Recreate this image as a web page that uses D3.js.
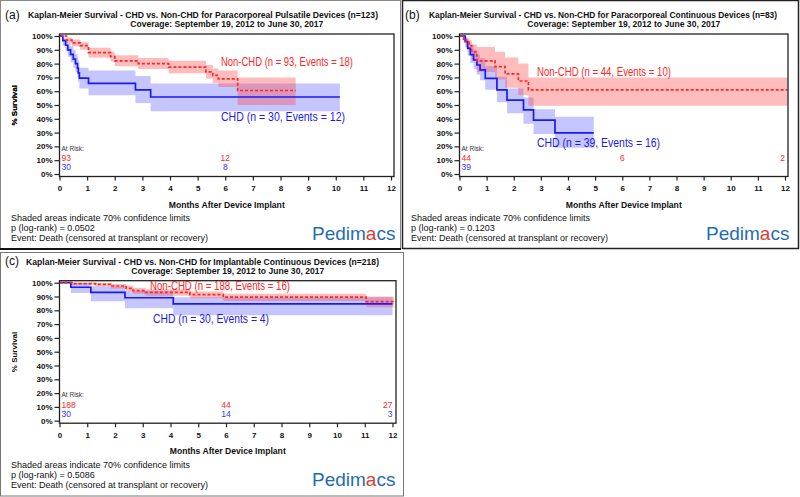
<!DOCTYPE html>
<html>
<head>
<meta charset="utf-8">
<script src="https://cdn.jsdelivr.net/npm/d3@7"></script>
<style>
  body { margin: 0; background: #fff; }
  svg { display: block; }
  text { font-family: Arial, "Liberation Sans", sans-serif; }
</style>
</head>
<body>
<div id="chart"></div>
<script>
// tick values shared by all three panels
var monthTicks = [0, 1, 2, 3, 4, 5, 6, 7, 8, 9, 10, 11, 12];
var pctTicks = [0, 10, 20, 30, 40, 50, 60, 70, 80, 90, 100];

// (a) Paracorporeal Pulsatile - Non-CHD
var aNonTime = [0, 0.25, 0.45, 0.75, 1.05, 1.85, 2.0, 2.85, 3.95, 5.3, 5.55, 5.75, 6.45, 8.55];
var aNonSurv = [100, 97, 95, 93, 88, 85, 82, 80, 77.5, 74, 71.5, 69, 60.5, 60.5];
var aNonHi   = [100, 99, 97.5, 95.5, 91.5, 88.5, 86, 84, 82, 79, 76.5, 75, 70, 70];
var aNonLo   = [100, 95, 92.5, 90, 84.5, 81.5, 78, 76, 73, 69, 66, 63, 50, 50];
// (a) CHD
var aChdTime = [0, 0.12, 0.22, 0.3, 0.4, 0.5, 0.58, 0.65, 0.68, 0.72, 1.05, 2.75, 3.3, 10.15];
var aChdSurv = [100, 96.7, 93.3, 90, 86.7, 83.3, 80, 76.7, 73.3, 69.5, 65.7, 61, 55.8, 55.8];
var aChdHi   = [100, 99, 97, 95, 92.5, 90, 87, 85, 82, 77, 75, 71, 65.5, 65.5];
var aChdLo   = [100, 93, 89, 85, 81, 77, 73.5, 70, 66.5, 62, 57, 51.5, 45.5, 45.5];
var aRiskMonth = [0, 6];
var aRiskNon = [93, 12];
var aRiskChd = [30, 8];

// (b) Paracorporeal Continuous - Non-CHD
var bNonTime = [0, 0.15, 0.25, 0.35, 0.45, 0.64, 1.31, 1.68, 2.17, 2.54, 12.1];
var bNonSurv = [100, 97.7, 95.4, 93.1, 88.5, 82, 77.8, 72.5, 67.4, 61, 61];
var bNonHi   = [100, 99.5, 98.5, 97, 94, 92, 88.5, 84.5, 80, 70, 70];
var bNonLo   = [100, 95, 91.5, 88.5, 82.5, 74, 68.5, 62.5, 57, 49.5, 49.5];
// (b) CHD
var bChdTime = [0, 0.21, 0.3, 0.4, 0.52, 0.64, 0.76, 0.95, 1.38, 1.75, 2.36, 2.73, 3.52, 4.95];
var bChdSurv = [100, 96, 91, 86.5, 82.6, 79, 75.4, 69.3, 61, 53.6, 46.4, 39, 29.8, 29.8];
var bChdHi   = [100, 99, 96, 93, 90, 87, 84, 78, 70.5, 62, 55.5, 47, 41.5, 41.5];
var bChdLo   = [100, 92, 86, 80.5, 76, 72, 68, 61, 52, 44, 36.5, 29, 19, 19];
var bRiskMonth = [0, 6, 12];
var bRiskNon = [44, 6, 2];
var bRiskChd = [39, null, null];

// (c) Implantable Continuous - Non-CHD
var cNonTime = [0, 0.45, 1.3, 1.85, 2.4, 2.65, 3.1, 4.7, 5.9, 11.05, 12.05];
var cNonSurv = [100, 99.4, 98.8, 97.6, 95.9, 94.3, 93, 91.3, 89.5, 86.3, 86.3];
var cNonHi   = [100, 100, 99.8, 99, 97.7, 96.4, 95.2, 93.6, 92, 90, 90];
var cNonLo   = [100, 98.5, 97.5, 95.8, 93.8, 92, 90.5, 88.7, 86.8, 82.3, 82.3];
// (c) CHD
var cChdTime = [0, 0.41, 1.13, 2.36, 4.1, 12.0];
var cChdSurv = [100, 96.7, 93, 89.1, 84.6, 84.6];
var cChdHi   = [100, 99.8, 97.5, 94, 89.5, 89.5];
var cChdLo   = [100, 92.5, 86.5, 81.5, 76.5, 76.5];
var cRiskMonth = [0, 6, 12];
var cRiskNon = [188, 44, 27];
var cRiskChd = [30, 14, 3];

var red = "#ff2626";
var blue = "#1a1af5";

var svg = d3.select("#chart")
  .append("svg")
  .attr("width", 800)
  .attr("height", 497);

svg.append("rect").attr("width", 800).attr("height", 497).attr("fill", "#fff");

// panel outlines
svg.append("rect").attr("x", 0.5).attr("y", 0.5).attr("width", 400).attr("height", 248)
  .attr("fill", "none").attr("stroke", "#888");
svg.append("line").attr("x1", 0).attr("x2", 401).attr("y1", 249).attr("y2", 249)
  .attr("stroke", "#111").attr("stroke-width", 2);
svg.append("rect").attr("x", 402.5).attr("y", 0.5).attr("width", 396).attr("height", 248)
  .attr("fill", "none").attr("stroke", "#222").attr("stroke-width", 1.5);
svg.append("rect").attr("x", 0.5).attr("y", 252.5).attr("width", 403).attr("height", 243.5)
  .attr("fill", "none").attr("stroke", "#777");

var panels = [
  {
    tag: "(a)", tagX: 5, titleX: 28, titleW: 350,
    title: "Kaplan-Meier Survival - CHD vs. Non-CHD for Paracorporeal Pulsatile Devices (n=123)",
    x0: 59.5, x12: 391, right: 394, y0: 174, y100: 36,
    pval: "p (log-rank) = 0.0502", noteX: 11, logoX: 312,
    non: {time: aNonTime, surv: aNonSurv, hi: aNonHi, lo: aNonLo, label: "Non-CHD (n = 93, Events = 18)", lx: 221, ly: 66, lw: 132},
    chd: {time: aChdTime, surv: aChdSurv, hi: aChdHi, lo: aChdLo, label: "CHD (n = 30, Events = 12)", lx: 221, ly: 121, lw: 124},
    riskMonth: aRiskMonth, riskNon: aRiskNon, riskChd: aRiskChd
  },
  {
    tag: "(b)", tagX: 405, titleX: 429, titleW: 348,
    title: "Kaplan-Meier Survival - CHD vs. Non-CHD for Paracorporeal Continuous Devices (n=83)",
    x0: 459.5, x12: 785, right: 788, y0: 174, y100: 36,
    pval: "p (log-rank) = 0.1203", noteX: 411, logoX: 706,
    non: {time: bNonTime, surv: bNonSurv, hi: bNonHi, lo: bNonLo, label: "Non-CHD (n = 44, Events = 10)", lx: 537, ly: 76, lw: 134},
    chd: {time: bChdTime, surv: bChdSurv, hi: bChdHi, lo: bChdLo, label: "CHD (n = 39, Events = 16)", lx: 537, ly: 147, lw: 123},
    riskMonth: bRiskMonth, riskNon: bRiskNon, riskChd: bRiskChd
  },
  {
    tag: "(c)", tagX: 5, titleX: 26, titleW: 353,
    title: "Kaplan-Meier Survival - CHD vs. Non-CHD for Implantable Continuous Devices (n=218)",
    x0: 59.5, x12: 392.5, right: 396, y0: 420.7, y100: 282.7,
    pval: "p (log-rank) = 0.5086", noteX: 11, logoX: 312,
    non: {time: cNonTime, surv: cNonSurv, hi: cNonHi, lo: cNonLo, label: "Non-CHD (n = 188, Events = 16)", lx: 150, ly: 290, lw: 140},
    chd: {time: cChdTime, surv: cChdSurv, hi: cChdHi, lo: cChdLo, label: "CHD (n = 30, Events = 4)", lx: 153, ly: 323, lw: 116},
    riskMonth: cRiskMonth, riskNon: cRiskNon, riskChd: cRiskChd
  }
];

function drawPanel(p) {
  var x = d3.scaleLinear().domain([0, 12]).range([p.x0, p.x12]);
  var y = d3.scaleLinear().domain([0, 100]).range([p.y0, p.y100]);
  var top = p.y100 - 2;
  var bottom = p.y0 + 2.5;
  var mid = (p.x0 + p.right) / 2;
  var g = svg.append("g");

  // titles
  g.append("text").attr("x", p.tagX).attr("y", p.y100 - 17.5)
    .attr("font-size", "12px").attr("fill", "#111").text(p.tag);
  g.append("text").attr("x", p.titleX).attr("y", p.y100 - 18)
    .attr("font-size", "8.5px").attr("font-weight", "bold").attr("fill", "#111")
    .attr("textLength", p.titleW).attr("lengthAdjust", "spacingAndGlyphs")
    .text(p.title);
  g.append("text").attr("x", mid).attr("y", p.y100 - 9)
    .attr("text-anchor", "middle")
    .attr("font-size", "8.5px").attr("font-weight", "bold").attr("fill", "#111")
    .attr("textLength", 193).attr("lengthAdjust", "spacingAndGlyphs")
    .text("Coverage: September 19, 2012 to June 30, 2017");

  // confidence bands and step curves
  var area = d3.area().curve(d3.curveStepAfter)
    .x(d => x(d.t)).y0(d => y(d.lo)).y1(d => y(d.hi));
  var line = d3.line().curve(d3.curveStepAfter)
    .x(d => x(d.t)).y(d => y(d.s));

  function pts(s) {
    return s.time.map((t, i) => ({t: t, s: s.surv[i], lo: s.lo[i], hi: s.hi[i]}));
  }

  g.append("path").datum(pts(p.chd)).attr("d", area)
    .attr("fill", "rgb(80,80,255)").attr("fill-opacity", 0.33);
  g.append("path").datum(pts(p.non)).attr("d", area)
    .attr("fill", "rgb(255,70,70)").attr("fill-opacity", 0.36);

  g.append("path").datum(pts(p.chd)).attr("d", line)
    .attr("fill", "none").attr("stroke", blue).attr("stroke-width", 1.7);
  g.append("path").datum(pts(p.non)).attr("d", line)
    .attr("fill", "none").attr("stroke", red).attr("stroke-width", 1.7)
    .attr("stroke-dasharray", "3,2");

  // frame
  g.append("rect").attr("x", p.x0).attr("y", top)
    .attr("width", p.right - p.x0).attr("height", bottom - top)
    .attr("fill", "none").attr("stroke", "#222").attr("stroke-width", 1.3);

  // axes
  var yAxis = g.append("g")
    .attr("transform", `translate(${p.x0}, 0)`)
    .call(d3.axisLeft(y).tickValues(pctTicks).tickFormat(d => d + "%").tickSize(5).tickPadding(2));
  yAxis.select(".domain").remove();
  yAxis.selectAll("text").attr("font-size", "8px").attr("font-weight", "bold").attr("fill", "#111");
  yAxis.selectAll("line").attr("stroke", "#222").attr("stroke-width", 1.2);

  var xAxis = g.append("g")
    .attr("transform", `translate(0, ${bottom})`)
    .call(d3.axisBottom(x).tickValues(monthTicks).tickSize(4).tickPadding(5));
  xAxis.select(".domain").remove();
  xAxis.selectAll("text").attr("font-size", "8px").attr("font-weight", "bold").attr("fill", "#111");
  xAxis.selectAll("line").attr("stroke", "#222").attr("stroke-width", 1.2);

  // axis titles
  g.append("text").attr("transform", `translate(17, ${(top + bottom) / 2}) rotate(-90)`)
    .attr("text-anchor", "middle").attr("font-size", "8px").attr("font-weight", "bold")
    .attr("fill", "#111").text("% Survival");
  g.append("text").attr("x", mid).attr("y", bottom + 31)
    .attr("text-anchor", "middle").attr("font-size", "8.5px").attr("font-weight", "bold")
    .attr("fill", "#111").attr("textLength", 116).attr("lengthAdjust", "spacingAndGlyphs")
    .text("Months After Device Implant");

  // series labels
  [["non", red], ["chd", blue]].forEach(function(k) {
    var s = p[k[0]];
    g.append("text").attr("x", s.lx).attr("y", s.ly)
      .attr("font-family", "Lato, 'Open Sans', sans-serif")
      .attr("font-size", "12.5px").attr("fill", k[1])
      .attr("textLength", s.lw).attr("lengthAdjust", "spacingAndGlyphs")
      .text(s.label);
  });

  // number at risk
  g.append("text").attr("x", p.x0 + 2).attr("y", p.y0 - 23.5)
    .attr("font-size", "6.5px").attr("fill", "#333").text("At Risk:");
  function anchor(m) { return m === 0 ? "start" : (m === 12 ? "end" : "middle"); }
  function riskX(m) { return m === 0 ? x(m) + 2 : x(m); }
  p.riskMonth.forEach(function(m, i) {
    if (p.riskNon[i] != null) {
      g.append("text").attr("x", riskX(m)).attr("y", p.y0 - 13)
        .attr("text-anchor", anchor(m)).attr("font-size", "8.5px").attr("fill", red)
        .text(p.riskNon[i]);
    }
    if (p.riskChd[i] != null) {
      g.append("text").attr("x", riskX(m)).attr("y", p.y0 - 4)
        .attr("text-anchor", anchor(m)).attr("font-size", "8.5px").attr("fill", "#3333ff")
        .text(p.riskChd[i]);
    }
  });

  // footnotes
  var notes = ["Shaded areas indicate 70% confidence limits", p.pval,
    "Event: Death (censored at transplant or recovery)"];
  notes.forEach(function(n, i) {
    g.append("text").attr("x", p.noteX).attr("y", bottom + 44.5 + i * 10)
      .attr("font-size", "9px").attr("fill", "#111").text(n);
  });

  // logo
  var logo = g.append("text").attr("x", p.logoX).attr("y", bottom + 63)
    .attr("font-size", "19px").attr("fill", "#1f6db3");
  logo.append("tspan").text("Pedim");
  logo.append("tspan").attr("fill", "#e03c31").text("a");
  logo.append("tspan").text("cs");
}

panels.forEach(drawPanel);
</script>
</body>
</html>
